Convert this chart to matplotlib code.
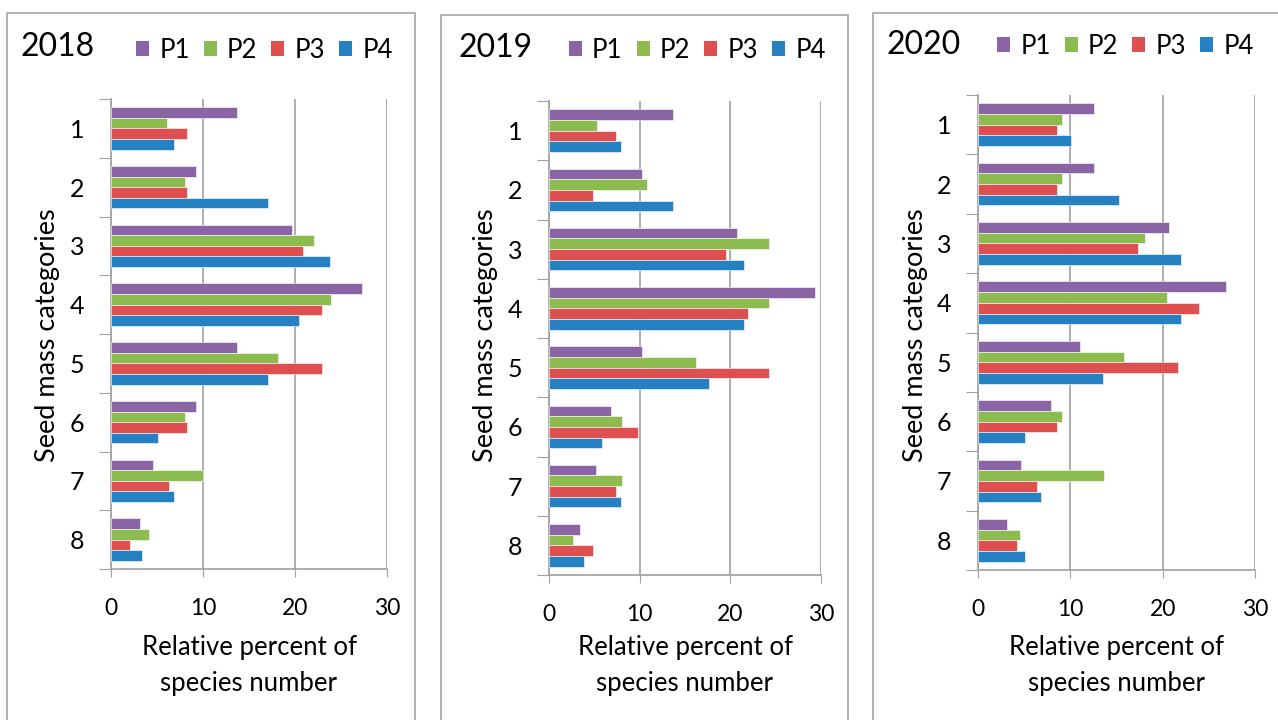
import matplotlib.pyplot as plt
from matplotlib.patches import Rectangle, Patch
import numpy as np

plt.rcParams['font.family'] = ['Lato', 'DejaVu Sans']

categories = ['1', '2', '3', '4', '5', '6', '7', '8']
series = ['P1', 'P2', 'P3', 'P4']
colors = ['#8b64a6', '#8cbb4f', '#de5050', '#2581c2']

# relative percent of species number per seed mass category
y2018_p1 = [13.7, 9.2, 19.7, 27.3, 13.7, 9.2, 4.6, 3.1]
y2018_p2 = [6.1, 8.0, 22.1, 23.9, 18.1, 8.0, 10.0, 4.1]
y2018_p3 = [8.3, 8.3, 20.9, 22.9, 22.9, 8.3, 6.3, 2.1]
y2018_p4 = [6.8, 17.1, 23.8, 20.4, 17.1, 5.1, 6.8, 3.4]

y2019_p1 = [13.7, 10.3, 20.7, 29.3, 10.3, 6.8, 5.2, 3.4]
y2019_p2 = [5.3, 10.8, 24.3, 24.3, 16.2, 8.1, 8.1, 2.7]
y2019_p3 = [7.4, 4.8, 19.5, 21.9, 24.3, 9.8, 7.4, 4.8]
y2019_p4 = [7.9, 13.7, 21.5, 21.5, 17.6, 5.8, 7.9, 3.9]

y2020_p1 = [12.6, 12.6, 20.7, 26.9, 11.1, 7.9, 4.7, 3.1]
y2020_p2 = [9.1, 9.1, 18.1, 20.5, 15.8, 9.1, 13.6, 4.6]
y2020_p3 = [8.6, 8.6, 17.3, 23.9, 21.7, 8.6, 6.4, 4.2]
y2020_p4 = [10.1, 15.3, 22.0, 22.0, 13.5, 5.1, 6.8, 5.1]

years = ['2018', '2019', '2020']
panel_data = [
    [y2018_p1, y2018_p2, y2018_p3, y2018_p4],
    [y2019_p1, y2019_p2, y2019_p3, y2019_p4],
    [y2020_p1, y2020_p2, y2020_p3, y2020_p4],
]

W, H = 1278, 720
fig = plt.figure(figsize=(W / 100, H / 100), dpi=100)

# pixel layout: (axis left, axis right, axis top, axis bottom)
axes_px = [(111, 387, 99, 569), (549, 821, 101, 575), (978, 1255, 95, 570)]
boxes_px = [(7, 13, 415), (441, 15, 848), (873, 13, 1290)]
title_px = [(20, 47), (458, 48), (887, 45)]
legend_px = [(136, 50), (569, 50), (997, 46)]
ylabel_px = [48, 485, 915]

grid_c = '#a0a0a0'
h = 0.18
ypos = np.arange(len(categories))

for k in range(3):
    l, r, t, b = axes_px[k]
    ax = fig.add_axes([l / W, 1 - b / H, (r - l) / W, (b - t) / H])

    # panel frame
    bx0, by0, bx1 = boxes_px[k]
    fig.patches.append(Rectangle((bx0 / W, -0.05), (bx1 - bx0) / W, 1.05 - by0 / H,
                                 transform=fig.transFigure, fill=False,
                                 edgecolor='#a6a6a6', lw=1.2, zorder=0))

    for i, vals in enumerate(panel_data[k]):
        ax.barh(ypos + (i - 1.5) * h, vals, height=h, color=colors[i],
                edgecolor='white', linewidth=0.4, zorder=3, label=series[i])

    ax.set_xlim(0, 30)
    ax.set_ylim(7.5, -0.5)
    ax.set_xticks([0, 10, 20, 30])
    ax.tick_params(axis='x', length=6, color=grid_c, pad=15, labelsize=16.5)
    ax.set_yticks(np.arange(-0.5, 8, 1))
    ax.set_yticklabels([])
    ax.tick_params(axis='y', length=9, color=grid_c)
    ax.set_yticks(ypos, minor=True)
    ax.set_yticklabels(categories, minor=True, fontsize=18)
    ax.tick_params(axis='y', which='minor', length=0, pad=19)
    ax.grid(axis='x', color=grid_c, lw=1.2, zorder=0)
    for s in ['top', 'right']:
        ax.spines[s].set_visible(False)
    for s in ['left', 'bottom']:
        ax.spines[s].set_color(grid_c)
        ax.spines[s].set_linewidth(1.2)

    fig.text(ylabel_px[k] / W, 1 - 335 / H, 'Seed mass categories', rotation=90,
             ha='center', va='center', fontsize=19.5)
    fig.text((l + r) / 2 / W, 1 - 666 / H, 'Relative percent of\nspecies number',
             ha='center', va='center', fontsize=18.5, linespacing=1.55)
    fig.text(title_px[k][0] / W, 1 - title_px[k][1] / H, years[k],
             ha='left', va='center', fontsize=23)

    handles = [Patch(facecolor=c) for c in colors]
    ax.legend(handles, series, loc='center left', ncol=4, frameon=False,
              bbox_to_anchor=(legend_px[k][0] / W, 1 - legend_px[k][1] / H),
              bbox_transform=fig.transFigure, borderpad=0, borderaxespad=0,
              handlelength=0.5, handleheight=0.5, handletextpad=0.4,
              columnspacing=0.55, fontsize=18.5)

fig.savefig('out.png', dpi=100)
